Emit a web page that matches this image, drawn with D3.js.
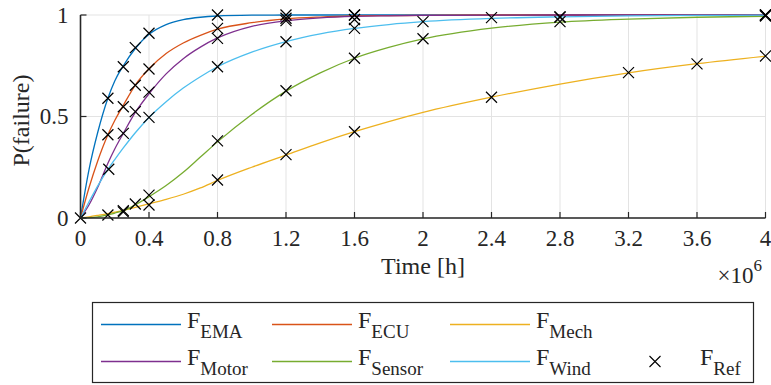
<!DOCTYPE html>
<html>
<head>
<meta charset="utf-8">
<script src="https://cdn.jsdelivr.net/npm/d3@7"></script>
<style>
  html, body { margin: 0; padding: 0; background: #fff; }
</style>
</head>
<body>
<svg id="chart" width="771" height="385"></svg>
<script>
// ---------------- data (times in units of 1e6 h) ----------------
const curveTimes = [0, 0.05, 0.1, 0.16, 0.2, 0.25, 0.32, 0.4, 0.5, 0.6, 0.7, 0.8, 1.0, 1.2, 1.4, 1.6, 1.8, 2.0, 2.4, 2.8, 3.2, 3.6, 4.0];
const emaValues    = [0, 0.24, 0.42, 0.59, 0.675, 0.75, 0.835, 0.905, 0.953, 0.977, 0.989, 0.995, 0.999, 1, 1, 1, 1, 1, 1, 1, 1, 1, 1];
const ecuValues    = [0, 0.15, 0.28, 0.41, 0.48, 0.555, 0.655, 0.735, 0.81, 0.862, 0.9, 0.93, 0.962, 0.981, 0.99, 0.995, 0.997, 0.998, 1, 1, 1, 1, 1];
const mechValues   = [0, 0.006, 0.013, 0.022, 0.029, 0.038, 0.052, 0.07, 0.092, 0.117, 0.148, 0.185, 0.25, 0.31, 0.37, 0.425, 0.475, 0.52, 0.595, 0.66, 0.715, 0.76, 0.797];
const motorValues  = [0, 0.065, 0.15, 0.27, 0.34, 0.417, 0.52, 0.612, 0.71, 0.785, 0.842, 0.887, 0.944, 0.972, 0.986, 0.993, 0.996, 0.998, 0.999, 1, 1, 1, 1];
const sensorValues = [0, 0.002, 0.006, 0.015, 0.024, 0.036, 0.065, 0.105, 0.16, 0.225, 0.3, 0.375, 0.51, 0.625, 0.715, 0.787, 0.84, 0.882, 0.935, 0.965, 0.98, 0.989, 0.994];
const windValues   = [0, 0.08, 0.157, 0.24, 0.288, 0.345, 0.42, 0.495, 0.573, 0.64, 0.696, 0.745, 0.817, 0.869, 0.907, 0.934, 0.953, 0.967, 0.983, 0.991, 0.996, 0.998, 0.999];

const seriesNames = ["EMA", "ECU", "Mech", "Motor", "Sensor", "Wind"];
const seriesValues = [emaValues, ecuValues, mechValues, motorValues, sensorValues, windValues];
const seriesColors = ["#0072BD", "#D95319", "#EDB120", "#7E2F8E", "#77AC30", "#4DBEEE"];

const refTimes = [
  0, 0.16, 0.25, 0.32, 0.4, 0.8, 1.2, 1.6, 4.0,
  0.16, 0.25, 0.32, 0.4, 0.8, 1.2, 1.6,
  0.25, 0.32, 0.4, 0.8, 1.2, 1.6, 2.8, 4.0,
  0.165, 0.4, 0.8, 1.2, 1.6, 2.0, 2.4, 2.8, 4.0,
  0.16, 0.25, 0.32, 0.4, 0.8, 1.2, 1.6, 2.0, 2.8, 4.0,
  0.25, 0.4, 0.8, 1.2, 1.6, 2.4, 3.2, 3.6, 4.0
];
const refValues = [
  0, 0.59, 0.745, 0.839, 0.91, 1.0, 1.0, 1.0, 1.0,
  0.41, 0.548, 0.654, 0.734, 0.934, 0.984, 1.0,
  0.417, 0.524, 0.62, 0.885, 0.972, 0.978, 0.99, 1.0,
  0.24, 0.496, 0.745, 0.868, 0.934, 0.967, 0.987, 0.99, 0.999,
  0.015, 0.036, 0.069, 0.113, 0.38, 0.627, 0.787, 0.883, 0.967, 0.995,
  0.03, 0.064, 0.187, 0.312, 0.425, 0.595, 0.716, 0.759, 0.798
];

const xTickValues = [0, 0.4, 0.8, 1.2, 1.6, 2, 2.4, 2.8, 3.2, 3.6, 4];
const xTickLabels = ["0", "0.4", "0.8", "1.2", "1.6", "2", "2.4", "2.8", "3.2", "3.6", "4"];
const yTickValues = [0, 0.5, 1];
const yTickLabels = ["0", "0.5", "1"];
const xScaleFactor = 1e6;

// ---------------- layout ----------------
const svg = d3.select("#chart");
const X0 = 80.5, X1 = 765.5, Y0 = 218, Y1 = 15;
const x = d3.scaleLinear().domain([0, 4 * xScaleFactor]).range([X0, X1]);
const y = d3.scaleLinear().domain([0, 1]).range([Y0, Y1]);
const axisColor = "#262626";
const gridColor = "#e3e3e3";

function txt(sel, size) {
  return sel.style("font-family", '"Liberation Serif"')
    .style("font-size", size + "px")
    .style("fill", axisColor);
}

// grid
const grid = svg.append("g");
grid.selectAll("line.vx").data(xTickValues).enter().append("line")
  .attr("x1", d => x(d * xScaleFactor)).attr("x2", d => x(d * xScaleFactor))
  .attr("y1", Y1).attr("y2", Y0)
  .attr("stroke", gridColor).attr("stroke-width", 1);
grid.selectAll("line.hy").data(yTickValues).enter().append("line")
  .attr("x1", X0).attr("x2", X1)
  .attr("y1", d => y(d)).attr("y2", d => y(d))
  .attr("stroke", gridColor).attr("stroke-width", 1);

// curves
const plot = svg.append("g");
const line = d3.line()
  .x(d => x(d[0] * xScaleFactor))
  .y(d => y(d[1]))
  .curve(d3.curveMonotoneX);
seriesValues.forEach((vals, i) => {
  const pts = curveTimes.map((t, j) => [t, vals[j]]);
  plot.append("path")
    .attr("d", line(pts))
    .attr("fill", "none")
    .attr("stroke", seriesColors[i])
    .attr("stroke-width", 1.3);
});

// reference markers
const ms = 5.5;
const refG = svg.append("g");
refTimes.forEach((t, i) => {
  const cx = x(t * xScaleFactor), cy = y(refValues[i]);
  refG.append("path")
    .attr("d", `M${cx - ms},${cy - ms}L${cx + ms},${cy + ms}M${cx - ms},${cy + ms}L${cx + ms},${cy - ms}`)
    .attr("stroke", "#000").attr("stroke-width", 1.2).attr("fill", "none");
});

// axes (drawn from the scales)
const axes = svg.append("g");
axes.append("line").attr("x1", X0).attr("x2", X1).attr("y1", Y0).attr("y2", Y0)
  .attr("stroke", axisColor).attr("stroke-width", 1.6);
axes.append("line").attr("x1", X0).attr("x2", X0).attr("y1", Y0).attr("y2", Y1)
  .attr("stroke", axisColor).attr("stroke-width", 1.6);
xTickValues.forEach((v, i) => {
  const px = x(v * xScaleFactor);
  axes.append("line").attr("x1", px).attr("x2", px).attr("y1", Y0).attr("y2", Y0 - 6)
    .attr("stroke", axisColor).attr("stroke-width", 1.2);
  txt(axes.append("text").attr("x", px).attr("y", Y0 + 28).attr("text-anchor", "middle"), 23)
    .text(xTickLabels[i]);
});
yTickValues.forEach((v, i) => {
  const py = y(v);
  axes.append("line").attr("x1", X0).attr("x2", X0 + 6).attr("y1", py).attr("y2", py)
    .attr("stroke", axisColor).attr("stroke-width", 1.2);
  txt(axes.append("text").attr("x", X0 - 12).attr("y", py).attr("dy", "0.33em").attr("text-anchor", "end"), 23)
    .text(yTickLabels[i]);
});

// axis labels
txt(svg.append("text")
  .attr("x", (X0 + X1) / 2).attr("y", 274)
  .attr("text-anchor", "middle"), 24)
  .text("Time [h]");

txt(svg.append("text")
  .attr("transform", `translate(29,${(Y0 + Y1) / 2 + 4}) rotate(-90)`)
  .attr("text-anchor", "middle"), 24)
  .text("P(failure)");

// exponent label
const expText = txt(svg.append("text")
  .attr("x", 762).attr("y", 283)
  .attr("text-anchor", "end"), 23);
expText.append("tspan").text("\u00D710");
expText.append("tspan").attr("dy", -12).style("font-size", "17px").text("6");

// ---------------- legend ----------------
const legend = svg.append("g");
legend.append("rect")
  .attr("x", 92.5).attr("y", 302.5).attr("width", 661).attr("height", 80)
  .attr("fill", "#fff").attr("stroke", axisColor).attr("stroke-width", 1.2);

const colLineX = [101, 272, 450];
const rowY = [324.5, 361.5];
seriesNames.forEach((name, k) => {
  const col = k % 3, row = Math.floor(k / 3);
  const lx = colLineX[col], ly = rowY[row];
  legend.append("line")
    .attr("x1", lx).attr("x2", lx + 80).attr("y1", ly).attr("y2", ly)
    .attr("stroke", seriesColors[k]).attr("stroke-width", 1.3);
  const t = txt(legend.append("text").attr("x", lx + 86).attr("y", ly + 3), 24);
  t.append("tspan").text("F");
  t.append("tspan").attr("dy", 10.5).style("font-size", "19px").text(name);
});
// reference entry
{
  const cx = 655, cy = rowY[1];
  const s = 5.5;
  legend.append("path")
    .attr("d", `M${cx - s},${cy - s}L${cx + s},${cy + s}M${cx - s},${cy + s}L${cx + s},${cy - s}`)
    .attr("stroke", "#000").attr("stroke-width", 1.1);
  const t = txt(legend.append("text").attr("x", 700).attr("y", cy + 3), 24);
  t.append("tspan").text("F");
  t.append("tspan").attr("dy", 10.5).style("font-size", "19px").text("Ref");
}
</script>
</body>
</html>
